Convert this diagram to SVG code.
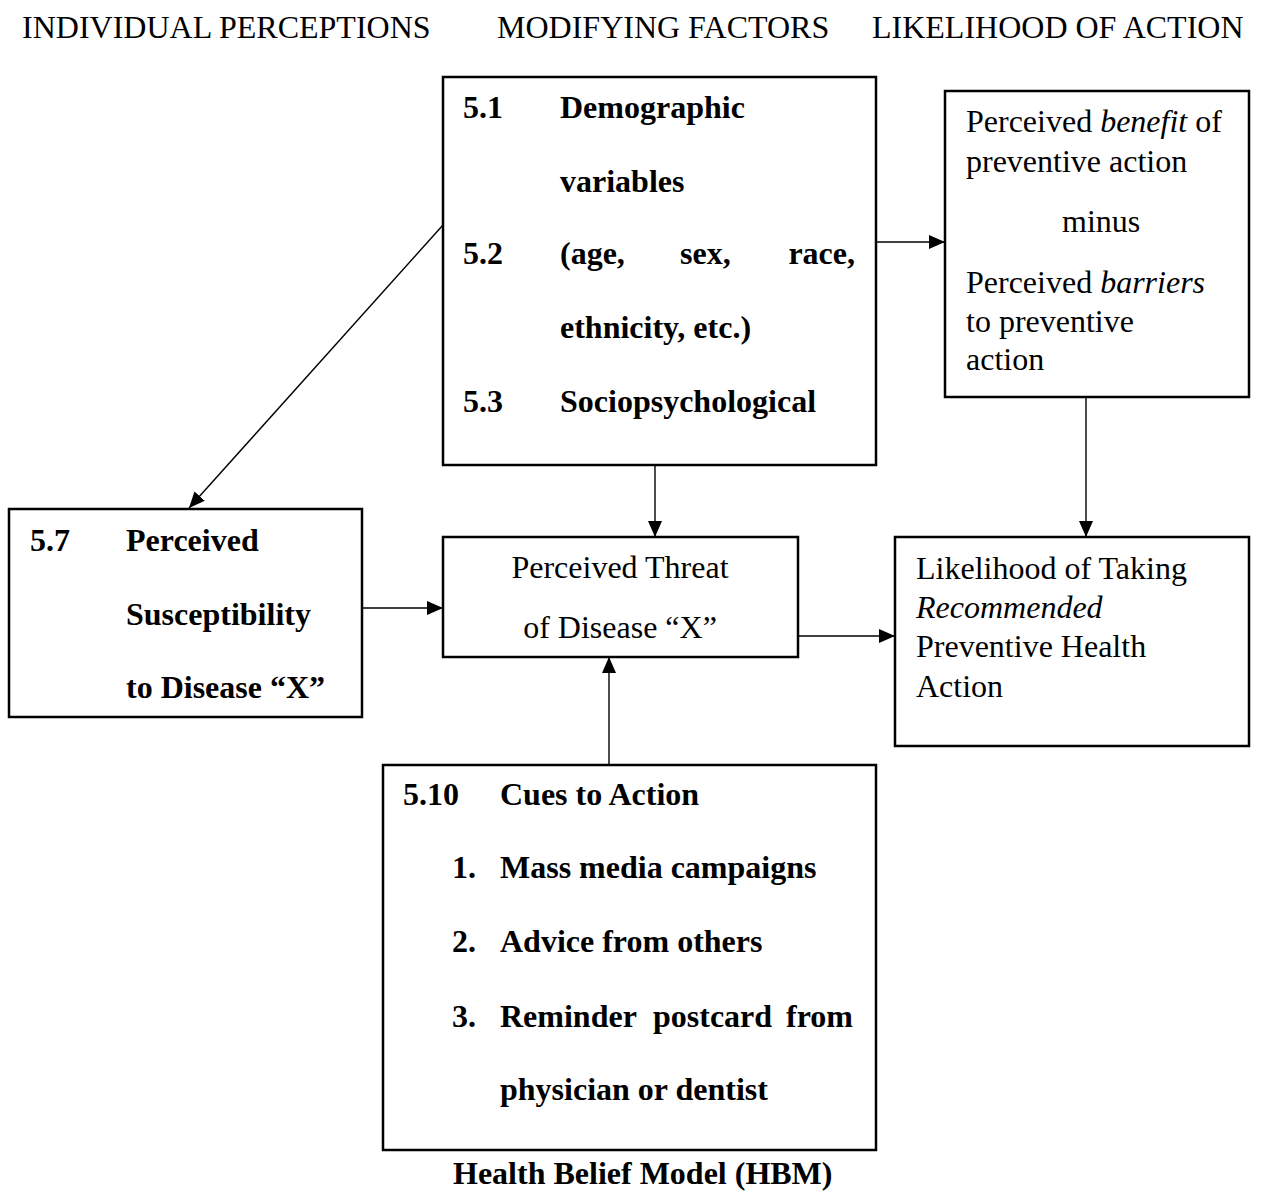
<svg xmlns="http://www.w3.org/2000/svg" width="1261" height="1197" viewBox="0 0 1261 1197">
<style>
text{font-family:"Liberation Serif","Times New Roman",serif;font-size:32px;fill:#000}
.b{font-weight:bold}
.box{fill:#fff;stroke:#000;stroke-width:2.5}
.c{stroke:#000;stroke-width:1.4;fill:none;marker-end:url(#ah)}
</style>
<defs>
<marker id="ah" markerUnits="userSpaceOnUse" markerWidth="16" markerHeight="14" refX="16" refY="7" orient="auto">
<path d="M0,0 L16,7 L0,14 z" fill="#000"/>
</marker>
</defs>
<rect width="1261" height="1197" fill="#fff"/>
<g id="headers">
<text x="22" y="38">INDIVIDUAL PERCEPTIONS</text>
<text x="497" y="38">MODIFYING FACTORS</text>
<text x="872" y="38">LIKELIHOOD OF ACTION</text>
</g>
<g id="connectors">
<line class="c" x1="876" y1="242" x2="945" y2="242"/>
<line class="c" x1="443" y1="225" x2="189" y2="508"/>
<line class="c" x1="655" y1="465" x2="655" y2="537"/>
<line class="c" x1="362" y1="608" x2="443" y2="608"/>
<line class="c" x1="798" y1="636" x2="895" y2="636"/>
<line class="c" x1="1086" y1="397" x2="1086" y2="537"/>
<line class="c" x1="609" y1="765" x2="609" y2="657"/>
</g>
<g id="modifying">
<rect class="box" x="443" y="77" width="433" height="388"/>
<text class="b" x="463" y="118">5.1</text>
<text class="b" x="560" y="118">Demographic</text>
<text class="b" x="560" y="192">variables</text>
<text class="b" x="463" y="264">5.2</text>
<text class="b" x="560" y="264">(age,</text>
<text class="b" x="680" y="264">sex,</text>
<text class="b" x="855" y="264" text-anchor="end">race,</text>
<text class="b" x="560" y="338">ethnicity, etc.)</text>
<text class="b" x="463" y="412">5.3</text>
<text class="b" x="560" y="412">Sociopsychological</text>
</g>
<g id="benefits">
<rect class="box" x="945" y="91" width="304" height="306"/>
<text x="966" y="132">Perceived <tspan font-style="italic">benefit</tspan> of</text>
<text x="966" y="172">preventive action</text>
<text x="1062" y="232">minus</text>
<text x="966" y="293">Perceived <tspan font-style="italic">barriers</tspan></text>
<text x="966" y="332">to preventive</text>
<text x="966" y="370">action</text>
</g>
<g id="susceptibility">
<rect class="box" x="9" y="509" width="353" height="208"/>
<text class="b" x="30" y="551">5.7</text>
<text class="b" x="126" y="551">Perceived</text>
<text class="b" x="126" y="625">Susceptibility</text>
<text class="b" x="126" y="698">to Disease “X”</text>
</g>
<g id="threat">
<rect class="box" x="443" y="537" width="355" height="120"/>
<text x="620" y="578" text-anchor="middle">Perceived Threat</text>
<text x="620" y="638" text-anchor="middle">of Disease “X”</text>
</g>
<g id="likelihood">
<rect class="box" x="895" y="537" width="354" height="209"/>
<text x="916" y="579">Likelihood of Taking</text>
<text x="916" y="618" font-style="italic">Recommended</text>
<text x="916" y="657">Preventive Health</text>
<text x="916" y="697">Action</text>
</g>
<g id="cues">
<rect class="box" x="383" y="765" width="493" height="385"/>
<text class="b" x="403" y="805">5.10</text>
<text class="b" x="500" y="805">Cues to Action</text>
<text class="b" x="452" y="878">1.</text>
<text class="b" x="500" y="878">Mass media campaigns</text>
<text class="b" x="452" y="952">2.</text>
<text class="b" x="500" y="952">Advice from others</text>
<text class="b" x="452" y="1027">3.</text>
<text class="b" x="500" y="1027">Reminder</text>
<text class="b" x="653" y="1027">postcard</text>
<text class="b" x="853" y="1027" text-anchor="end">from</text>
<text class="b" x="500" y="1100">physician or dentist</text>
</g>
<g id="title">
<text class="b" x="453" y="1184">Health Belief Model (HBM)</text>
</g>
</svg>
